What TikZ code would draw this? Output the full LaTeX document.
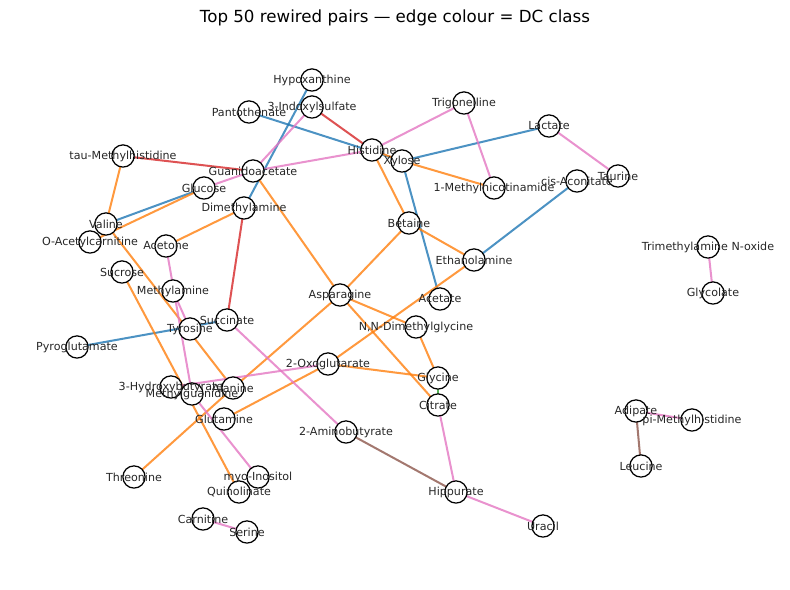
\documentclass[tikz,border=0pt]{standalone}
\usepackage{fontspec}
\setmainfont{DejaVu Sans}
\definecolor{dcblue}{HTML}{1F77B4}
\definecolor{dcorange}{HTML}{FF7F0E}
\definecolor{dcred}{HTML}{D62728}
\definecolor{dcpink}{HTML}{E377C2}
\definecolor{dcbrown}{HTML}{8C564B}
\definecolor{dcgreen}{HTML}{2CA02C}
\begin{document}
\begin{tikzpicture}[
  x=0.72pt,y=-0.72pt,
  metab/.style={
    circle,
    draw=black,
    fill=white,
    line width=0.9pt,
    minimum size=16pt,
    inner sep=0pt
  },
  metab label/.style={
    font=\fontsize{8}{9}\selectfont,
    text=black!85,
    inner sep=0pt
  },
  pair/.style={
    line width=1.45pt,
    opacity=0.8
  },
]
\useasboundingbox (0,0) rectangle (790,590);
\node[font=\fontsize{12}{14}\selectfont] (title) at (395,18) {Top 50 rewired pairs — edge colour = DC class};
% metabolite positions
\foreach \id/\px/\py in {
  hyp/312/80, ind/312/107, pan/249/112, tri/464/103, lac/549/126,
  tau/123/156, his/372/150, xyl/402/161, gua/253/171, taur/618/176,
  aco/577/181, mna/494/188, glc/204/188, dma/244/208, val/106/224,
  bet/409/223, oac/90/242, ace/166/246, tmao/708/247, eth/474/260,
  suc/122/272, mam/173/291, glyc/713/293, asn/340/295, act/440/299,
  sin/227/320, tyr/190/329, dmg/416/327, pyr/77/347, oxo/328/364,
  hbu/171/387, mgu/192/394, ala/233/388, gly/438/378, cit/438/405,
  adi/636/411, pmh/692/420, gln/224/419, abu/346/432, leu/641/466,
  thr/134/477, ino/258/477, qui/239/492, hip/456/492, car/203/519,
  ser/247/532, ura/543/526}
  \coordinate (\id) at (\px,\py);
% edges
\foreach \a/\b in {hyp/dma, pan/xyl, xyl/lac, xyl/act, aco/eth, glc/val, pyr/sin}
  \draw[pair,dcblue] (\a) -- (\b);
\foreach \a/\b in {his/xyl, xyl/mna, tau/val, oac/glc, val/ala, dma/ace, gua/asn,
  his/bet, asn/bet, bet/eth, asn/dmg, asn/cit, asn/ala, eth/oxo, oxo/gln,
  oxo/gly, dmg/gly, ala/thr, suc/qui}
  \draw[pair,dcorange] (\a) -- (\b);
\foreach \a/\b in {ind/his, tau/gua, dma/sin}
  \draw[pair,dcred] (\a) -- (\b);
\foreach \a/\b in {ind/gua, gua/his, his/tri, tri/mna, lac/taur, gua/glc, ace/mgu,
  mam/tyr, hbu/oxo, mgu/ino, sin/abu, cit/hip, hip/ura, adi/pmh, car/ser, tmao/glyc}
  \draw[pair,dcpink] (\a) -- (\b);
\foreach \a/\b in {abu/hip, adi/leu}
  \draw[pair,dcbrown] (\a) -- (\b);
\draw[pair,dcgreen] (gly) -- (cit);
% nodes and labels
\foreach \id in {hyp,ind,pan,tri,lac,tau,his,xyl,gua,taur,aco,mna,glc,dma,val,bet,
  oac,ace,tmao,eth,suc,mam,glyc,asn,act,sin,tyr,dmg,pyr,oxo,hbu,mgu,ala,gly,cit,
  adi,pmh,gln,abu,leu,thr,ino,qui,hip,car,ser,ura}
  \node[metab] (n-\id) at (\id) {};
\foreach \id/\txt in {hyp/Hypoxanthine, ind/3-Indoxylsulfate, pan/Pantothenate,
  tri/Trigonelline, lac/Lactate, tau/tau-Methylhistidine, his/Histidine, xyl/Xylose,
  gua/Guanidoacetate, taur/Taurine, aco/cis-Aconitate, mna/1-Methylnicotinamide,
  glc/Glucose, dma/Dimethylamine, val/Valine, bet/Betaine, oac/O-Acetylcarnitine,
  ace/Acetone, tmao/Trimethylamine N-oxide, eth/Ethanolamine, suc/Sucrose,
  mam/Methylamine, glyc/Glycolate, asn/Asparagine, act/Acetate, sin/Succinate,
  tyr/Tyrosine, dmg/{N,N-Dimethylglycine}, pyr/Pyroglutamate, oxo/2-Oxoglutarate,
  hbu/3-Hydroxybutyrate, mgu/Methylguanidine, ala/Alanine, gly/Glycine, cit/Citrate,
  adi/Adipate, pmh/pi-Methylhistidine, gln/Glutamine, abu/2-Aminobutyrate,
  leu/Leucine, thr/Threonine, ino/myo-Inositol, qui/Quinolinate, hip/Hippurate,
  car/Carnitine, ser/Serine, ura/Uracil}
  \node[metab label] (l-\id) at (n-\id) {\txt};
\end{tikzpicture}
\end{document}
